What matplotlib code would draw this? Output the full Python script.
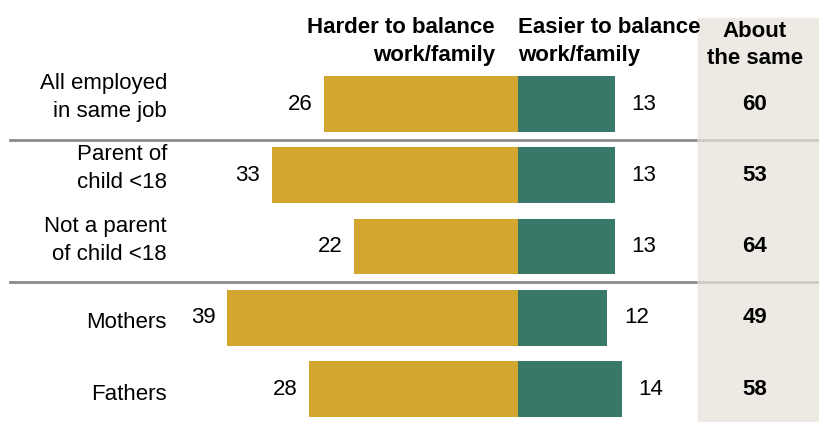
"""Diverging bar chart: harder vs easier to balance work/family."""

import matplotlib

matplotlib.use("Agg")
import matplotlib.pyplot as plt
from matplotlib.patches import Rectangle
import numpy as np

CATEGORIES = [
    "All employed\nin same job",
    "Parent of\nchild <18",
    "Not a parent\nof child <18",
    "Mothers",
    "Fathers",
]
HARDER = [26, 33, 22, 39, 28]
EASIER = [13, 13, 13, 12, 14]
SAME = [60, 53, 64, 49, 58]

HARDER_COLOR = "#d3a72f"
EASIER_COLOR = "#387868"
PANEL_COLOR = "#edeae4"
LINE_COLOR = "#8a8a8a"

plt.rcParams["font.family"] = ["Liberation Sans", "DejaVu Sans"]

W, H = 820, 422
fig = plt.figure(figsize=(W / 100, H / 100), dpi=100)

ax = fig.add_axes([0, 0, 1, 1])
ax.set_facecolor("none")
px = 7.45          # pixels per percentage point
zero = 518         # pixel position of the zero line
ax.set_xlim(-zero / px, (W - zero) / px)
row_h = 71.3
top = 104
ax.set_ylim((H - top) / row_h, -top / row_h)
ax.axis("off")

# shaded "About the same" column
ax.add_patch(Rectangle((698 / W, 0), 1 - 698 / W, 1 - 18 / H,
                       transform=fig.transFigure, color=PANEL_COLOR, zorder=0))

y = np.arange(len(CATEGORIES))
ax.barh(y, [-v for v in HARDER], height=0.78, color=HARDER_COLOR, zorder=2)
ax.barh(y, EASIER, height=0.78, color=EASIER_COLOR, zorder=2)

fs = 16
for yi, h, e, s, cat in zip(y, HARDER, EASIER, SAME, CATEGORIES):
    ax.text(-h - 1.6, yi, f"{h}", ha="right", va="center", fontsize=fs)
    ax.text(e + 2.2, yi, f"{e}", ha="left", va="center", fontsize=fs)
    ax.text((755 - zero) / px, yi, f"{s}", ha="center", va="center",
            fontsize=fs, fontweight="bold", zorder=3)
    shift = -0.09 if "\n" in cat else 0.07
    ax.text((167 - zero) / px, yi + shift, cat, ha="right", va="center", fontsize=fs,
            linespacing=1.45)

# group separators
for ys in (0.5, 2.5):
    ax.plot([(10 - zero) / px, (698 - zero) / px], [ys, ys], color=LINE_COLOR, lw=2)
    ax.plot([(698 - zero) / px, (W - zero) / px], [ys, ys], color="#cfcbc4", lw=2)

# column headers
fig.text(495 / W, 1 - 17 / H, "Harder to balance\nwork/family", ha="right", va="top",
         fontsize=fs, fontweight="bold", linespacing=1.45, multialignment="right")
fig.text(518 / W, 1 - 17 / H, "Easier to balance\nwork/family", ha="left", va="top",
         fontsize=fs, fontweight="bold", linespacing=1.45, multialignment="left")
fig.text(755 / W, 1 - 21 / H, "About\nthe same", ha="center", va="top",
         fontsize=fs, fontweight="bold", linespacing=1.4)

fig.savefig("out.png", dpi=100)
